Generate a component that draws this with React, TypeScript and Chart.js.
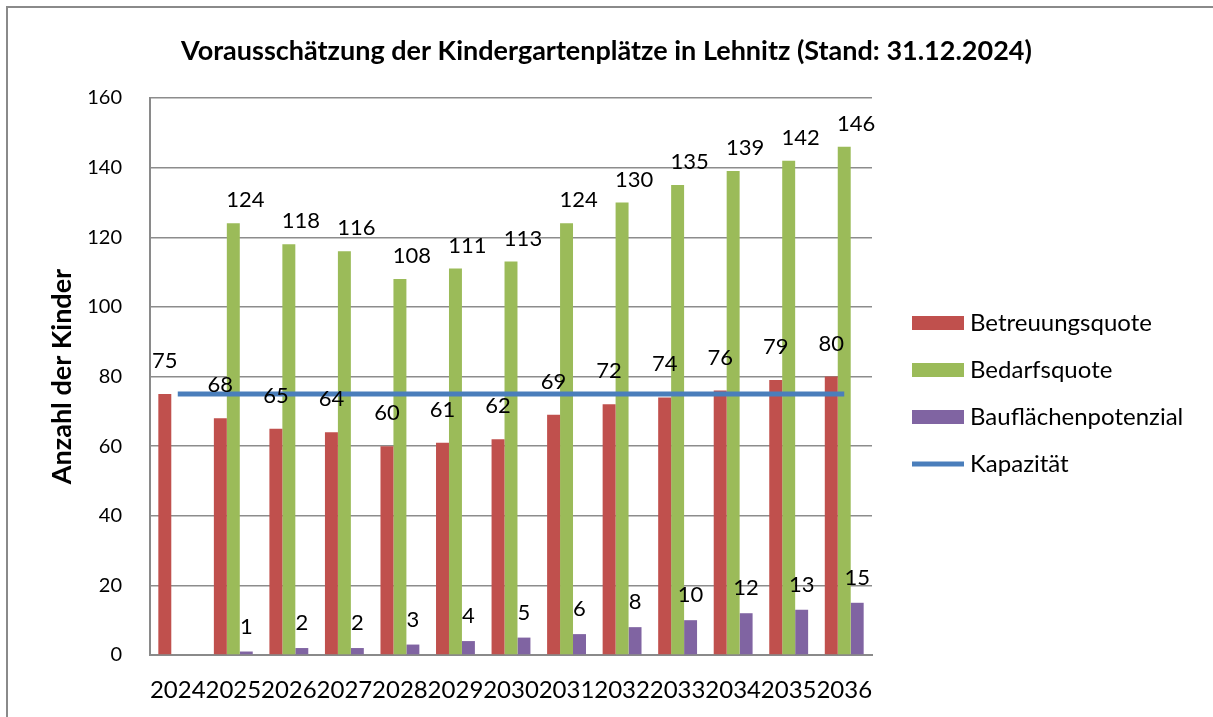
import React, { useEffect, useRef } from 'react';
import { Chart, registerables } from 'chart.js';

Chart.register(...registerables);

const years = ['2024', '2025', '2026', '2027', '2028', '2029', '2030', '2031', '2032', '2033', '2034', '2035', '2036'];
const betreuungsquote = [75, 68, 65, 64, 60, 61, 62, 69, 72, 74, 76, 79, 80];
const bedarfsquote = [null, 124, 118, 116, 108, 111, 113, 124, 130, 135, 139, 142, 146];
const bauflaechenpotenzial = [null, 1, 2, 2, 3, 4, 5, 6, 8, 10, 12, 13, 15];
const kapazitaet = [75, 75, 75, 75, 75, 75, 75, 75, 75, 75, 75, 75, 75];
const yMin = 0;
const yMax = 160;
const yStep = 20;

const TITLE = 'Vorausschätzung der Kindergartenplätze in Lehnitz (Stand: 31.12.2024)';
const Y_TITLE = 'Anzahl der Kinder';
const FONT = 'Lato, "Open Sans", sans-serif';

const W = 1213;
const H = 717;

// label styling per dataset: vertical gap above bar top (label centre), horizontal nudge
const labelStyle: Record<number, { gap: number; dx: number }> = {
  0: { gap: 33, dx: 0 },
  1: { gap: 23, dx: 12 },
  2: { gap: 25, dx: 0 },
};

const decorPlugin = {
  id: 'decor',
  beforeDraw(chart: any) {
    const ctx = chart.ctx;
    ctx.save();
    ctx.fillStyle = '#ffffff';
    ctx.fillRect(0, 0, W, H);
    ctx.restore();
  },
  afterDatasetsDraw(chart: any) {
    const ctx = chart.ctx;
    ctx.save();
    ctx.font = `22px ${FONT}`;
    ctx.fillStyle = '#000000';
    ctx.textAlign = 'center';
    ctx.textBaseline = 'middle';
    chart.data.datasets.forEach((ds: any, di: number) => {
      if (ds.type === 'line') return;
      const meta = chart.getDatasetMeta(di);
      const st = labelStyle[di] || { gap: 25, dx: 0 };
      meta.data.forEach((el: any, i: number) => {
        const v = ds.data[i];
        if (v === null || v === undefined) return;
        ctx.fillText(String(Math.round(v)), el.x + st.dx, el.y - st.gap);
      });
    });
    ctx.restore();
  },
  afterDraw(chart: any) {
    const ctx = chart.ctx;
    ctx.save();
    // outer frame
    ctx.strokeStyle = '#8a8a8a';
    ctx.lineWidth = 2;
    ctx.beginPath();
    ctx.moveTo(7, H);
    ctx.lineTo(7, 7);
    ctx.lineTo(W, 7);
    ctx.stroke();

    // title
    ctx.fillStyle = '#000000';
    ctx.font = `bold 27px ${FONT}`;
    ctx.textAlign = 'center';
    ctx.textBaseline = 'alphabetic';
    ctx.fillText(TITLE, W / 2, 60);

    // legend
    ctx.font = `24px ${FONT}`;
    ctx.textAlign = 'left';
    ctx.textBaseline = 'middle';
    const x0 = 912;
    const boxW = 52;
    const textX = 970;
    const rowY0 = 323;
    const rowH = 47;
    chart.data.datasets.forEach((ds: any, i: number) => {
      const cy = rowY0 + i * rowH;
      if (ds.type === 'line') {
        ctx.fillStyle = ds.borderColor;
        ctx.fillRect(x0, cy - 2.5, boxW, 5);
      } else {
        ctx.fillStyle = ds.backgroundColor;
        ctx.fillRect(x0, cy - 7, boxW, 14);
      }
      ctx.fillStyle = '#000000';
      ctx.fillText(ds.label, textX, cy);
    });
    ctx.restore();
  },
};

export default function App() {
  const ref = useRef<HTMLCanvasElement | null>(null);

  useEffect(() => {
    if (!ref.current) return;
    const chart = new Chart(ref.current, {
      type: 'bar',
      data: {
        labels: years,
        datasets: [
          {
            type: 'bar',
            label: 'Betreuungsquote',
            data: betreuungsquote,
            backgroundColor: '#C0504D',
            categoryPercentage: 0.7,
            barPercentage: 1.0,
            order: 1,
          },
          {
            type: 'bar',
            label: 'Bedarfsquote',
            data: bedarfsquote,
            backgroundColor: '#9BBB59',
            categoryPercentage: 0.7,
            barPercentage: 1.0,
            order: 1,
          },
          {
            type: 'bar',
            label: 'Bauflächenpotenzial',
            data: bauflaechenpotenzial,
            backgroundColor: '#8064A2',
            categoryPercentage: 0.7,
            barPercentage: 1.0,
            order: 1,
          },
          {
            type: 'line',
            label: 'Kapazität',
            data: kapazitaet,
            borderColor: '#4A7EBB',
            backgroundColor: '#4A7EBB',
            borderWidth: 5,
            pointRadius: 0,
            pointHoverRadius: 0,
            fill: false,
            order: 0,
          } as any,
        ],
      },
      options: {
        responsive: false,
        animation: false,
        devicePixelRatio: 1,
        layout: { padding: { left: 0, top: 98, right: W - 872, bottom: 0 } },
        plugins: {
          legend: { display: false },
          title: { display: false },
          tooltip: { enabled: false },
        },
        scales: {
          x: {
            grid: { display: false, drawTicks: false },
            border: { display: true, color: '#8a8a8a', width: 2 },
            ticks: {
              autoSkip: false,
              maxRotation: 0,
              minRotation: 0,
              color: '#000000',
              padding: 21,
              font: { family: FONT, size: 24 },
            },
            afterFit: (s: any) => {
              s.height = 62;
            },
          },
          y: {
            min: yMin,
            max: yMax,
            ticks: {
              stepSize: yStep,
              color: '#000000',
              padding: 28,
              font: { family: FONT, size: 20 },
            },
            grid: { color: '#8c8c8c', lineWidth: 1.5, drawTicks: false },
            border: { display: true, color: '#8a8a8a', width: 2 },
            title: {
              display: true,
              text: Y_TITLE,
              color: '#000000',
              font: { family: FONT, size: 27, weight: 'bold' },
              padding: { top: 46, bottom: 0 },
            },
            afterFit: (s: any) => {
              s.width = 150;
            },
          },
        },
      },
      plugins: [decorPlugin],
    });
    return () => chart.destroy();
  }, []);

  return (
    <div style={{ position: 'fixed', left: 0, top: 0, width: W, height: H, overflow: 'hidden', background: '#fff' }}>
      <canvas ref={ref} width={W} height={H} style={{ display: 'block', width: W, height: H }} />
    </div>
  );
}
